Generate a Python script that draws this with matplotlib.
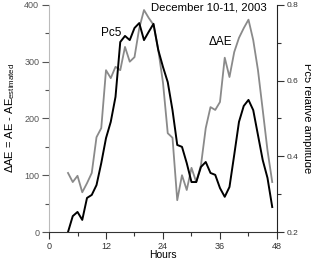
import numpy as np
import matplotlib
matplotlib.use('Agg')
import matplotlib.pyplot as plt
from matplotlib.ticker import MultipleLocator

plt.rcParams['font.family'] = ['Liberation Sans', 'DejaVu Sans']
plt.rcParams['mathtext.fontset'] = 'custom'
plt.rcParams['mathtext.rm'] = 'Liberation Sans'
plt.rcParams['mathtext.it'] = 'Liberation Sans'

# hours (UT) since start of December 10, 2003
hours = list(range(4, 48))

# Delta AE (left axis), gray curve
dae = [104, 88, 99, 70, 86, 104, 167, 183, 285, 271, 291, 285, 326, 300, 308,
       359, 391, 377, 365, 321, 263, 174, 166, 56, 100, 74, 113, 88, 118, 183,
       220, 215, 229, 307, 273, 317, 342, 359, 374, 338, 285, 215, 144, 88]

# Pc5 relative amplitude (right axis), black curve
pc5 = [0.200, 0.242, 0.253, 0.232, 0.290, 0.298, 0.324, 0.382, 0.448, 0.491,
       0.557, 0.702, 0.718, 0.707, 0.739, 0.752, 0.707, 0.729, 0.750, 0.681,
       0.636, 0.596, 0.522, 0.430, 0.425, 0.382, 0.332, 0.332, 0.372, 0.385,
       0.356, 0.351, 0.316, 0.293, 0.319, 0.404, 0.491, 0.533, 0.549, 0.522,
       0.456, 0.390, 0.343, 0.266]

fig = plt.figure(figsize=(3.11, 2.65), dpi=100)
ax = fig.add_axes([0.1576, 0.1245, 0.733, 0.857])
ax2 = ax.twinx()

ax.plot(hours, dae, color='#8a8a8a', lw=1.3)
ax2.plot(hours, pc5, color='black', lw=1.4)

ax.set_xlim(0, 48)
ax.set_ylim(0, 400)
ax2.set_ylim(0.2, 0.8)

ax.xaxis.set_major_locator(MultipleLocator(12))
ax.xaxis.set_minor_locator(MultipleLocator(6))
ax.yaxis.set_major_locator(MultipleLocator(100))
ax.yaxis.set_minor_locator(MultipleLocator(50))
ax2.yaxis.set_major_locator(MultipleLocator(0.2))
ax2.yaxis.set_minor_locator(MultipleLocator(0.1))

for a in (ax, ax2):
    a.spines['top'].set_visible(False)
    a.tick_params(which='major', length=5, width=0.8, labelsize=6.5, colors='#333333', pad=2)
    a.tick_params(which='minor', length=3, width=0.8, colors='#333333')
ax2.tick_params(labelsize=6)
ax.spines['left'].set_color('#bbbbbb')
ax2.spines['left'].set_visible(False)
ax2.spines['bottom'].set_visible(False)
ax.spines['right'].set_visible(False)
ax.spines['bottom'].set_color('#333333')
ax2.spines['right'].set_color('#222222')
ax.tick_params(axis='y', which='both', colors='#555555')

ax.set_xlabel('Hours', fontsize=7.5)
ax.xaxis.set_label_coords(0.5, -0.08)
ax.set_ylabel(r'ΔAE = AE - AE$_{\mathrm{estimated}}$', fontsize=8)
ax.yaxis.set_label_coords(-0.14, 0.5)
ax2.set_ylabel('Pc5 relative amplitude', fontsize=8, rotation=-90, va='center')
ax2.yaxis.set_label_coords(1.13, 0.5)

ax.text(0.955, 0.987, 'December 10-11, 2003', transform=ax.transAxes,
        ha='right', va='center', fontsize=8.2)
ax.text(15.3, 350, 'Pc5', ha='right', va='center', fontsize=8.5)
ax.text(36, 335, 'ΔAE', ha='center', va='center', fontsize=8.5)

fig.savefig('out.png', dpi=100)
